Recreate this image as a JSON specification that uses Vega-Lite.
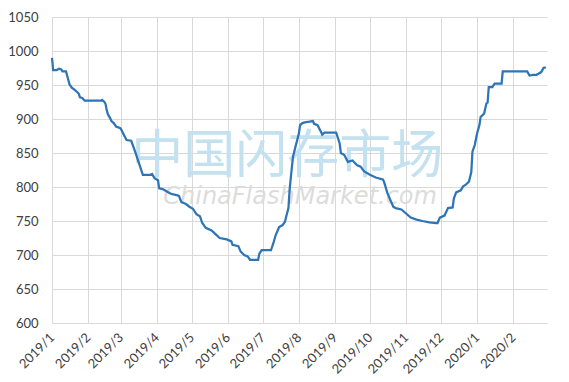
{
  "$schema": "https://vega.github.io/schema/vega-lite/v6.json",
  "width": 495,
  "height": 306,
  "autosize": "none",
  "padding": {"left": 52, "top": 17, "right": 22, "bottom": 59},
  "background": "white",
  "config": {
    "view": {"stroke": null},
    "font": "Lato",
    "axis": {"labelFont": "Lato", "labelFontSize": 13, "labelColor": "#404040", "gridColor": "#d9d9d9", "gridWidth": 1, "ticks": false, "title": null, "labelOverlap": false}
  },
  "datasets": {
    "price": [
      {"date": "2019-01-01", "value": 990},
      {"date": "2019-01-02", "value": 972},
      {"date": "2019-01-05", "value": 972},
      {"date": "2019-01-07", "value": 974},
      {"date": "2019-01-09", "value": 973},
      {"date": "2019-01-10", "value": 970},
      {"date": "2019-01-13", "value": 970},
      {"date": "2019-01-14", "value": 964},
      {"date": "2019-01-16", "value": 951},
      {"date": "2019-01-18", "value": 946},
      {"date": "2019-01-21", "value": 942},
      {"date": "2019-01-23", "value": 939},
      {"date": "2019-01-24", "value": 937},
      {"date": "2019-01-25", "value": 932},
      {"date": "2019-01-27", "value": 931},
      {"date": "2019-01-29", "value": 927},
      {"date": "2019-02-12", "value": 927},
      {"date": "2019-02-13", "value": 928},
      {"date": "2019-02-15", "value": 925},
      {"date": "2019-02-16", "value": 922},
      {"date": "2019-02-17", "value": 913},
      {"date": "2019-02-18", "value": 907},
      {"date": "2019-02-20", "value": 901},
      {"date": "2019-02-21", "value": 897},
      {"date": "2019-02-23", "value": 894},
      {"date": "2019-02-25", "value": 889},
      {"date": "2019-02-28", "value": 887},
      {"date": "2019-03-01", "value": 886},
      {"date": "2019-03-03", "value": 879},
      {"date": "2019-03-06", "value": 869},
      {"date": "2019-03-10", "value": 868},
      {"date": "2019-03-13", "value": 854},
      {"date": "2019-03-20", "value": 818},
      {"date": "2019-03-26", "value": 818},
      {"date": "2019-03-28", "value": 819},
      {"date": "2019-03-30", "value": 813},
      {"date": "2019-04-02", "value": 810},
      {"date": "2019-04-03", "value": 798},
      {"date": "2019-04-06", "value": 797},
      {"date": "2019-04-10", "value": 793},
      {"date": "2019-04-13", "value": 790},
      {"date": "2019-04-18", "value": 788},
      {"date": "2019-04-20", "value": 787},
      {"date": "2019-04-22", "value": 778},
      {"date": "2019-04-26", "value": 775},
      {"date": "2019-04-29", "value": 771},
      {"date": "2019-05-02", "value": 768},
      {"date": "2019-05-05", "value": 760},
      {"date": "2019-05-08", "value": 757},
      {"date": "2019-05-10", "value": 747},
      {"date": "2019-05-13", "value": 740},
      {"date": "2019-05-18", "value": 736},
      {"date": "2019-05-20", "value": 733},
      {"date": "2019-05-25", "value": 725},
      {"date": "2019-05-31", "value": 723},
      {"date": "2019-06-04", "value": 720},
      {"date": "2019-06-05", "value": 715},
      {"date": "2019-06-10", "value": 713},
      {"date": "2019-06-12", "value": 705},
      {"date": "2019-06-15", "value": 700},
      {"date": "2019-06-18", "value": 698},
      {"date": "2019-06-20", "value": 693},
      {"date": "2019-06-27", "value": 693},
      {"date": "2019-06-28", "value": 702},
      {"date": "2019-06-30", "value": 707},
      {"date": "2019-07-08", "value": 707},
      {"date": "2019-07-10", "value": 717},
      {"date": "2019-07-12", "value": 729},
      {"date": "2019-07-15", "value": 741},
      {"date": "2019-07-18", "value": 744},
      {"date": "2019-07-20", "value": 749},
      {"date": "2019-07-21", "value": 756},
      {"date": "2019-07-23", "value": 769},
      {"date": "2019-07-24", "value": 796},
      {"date": "2019-07-26", "value": 830},
      {"date": "2019-07-27", "value": 845},
      {"date": "2019-07-29", "value": 859},
      {"date": "2019-07-31", "value": 872},
      {"date": "2019-08-01", "value": 879},
      {"date": "2019-08-02", "value": 891},
      {"date": "2019-08-04", "value": 894},
      {"date": "2019-08-06", "value": 895},
      {"date": "2019-08-10", "value": 896},
      {"date": "2019-08-13", "value": 897},
      {"date": "2019-08-14", "value": 893},
      {"date": "2019-08-17", "value": 891},
      {"date": "2019-08-20", "value": 881},
      {"date": "2019-08-21", "value": 877},
      {"date": "2019-08-23", "value": 880},
      {"date": "2019-09-02", "value": 880},
      {"date": "2019-09-05", "value": 864},
      {"date": "2019-09-06", "value": 850},
      {"date": "2019-09-09", "value": 847},
      {"date": "2019-09-12", "value": 837},
      {"date": "2019-09-16", "value": 839},
      {"date": "2019-09-20", "value": 832},
      {"date": "2019-09-23", "value": 830},
      {"date": "2019-09-26", "value": 823},
      {"date": "2019-10-01", "value": 818},
      {"date": "2019-10-06", "value": 814},
      {"date": "2019-10-12", "value": 811},
      {"date": "2019-10-13", "value": 808},
      {"date": "2019-10-16", "value": 791},
      {"date": "2019-10-21", "value": 771},
      {"date": "2019-10-23", "value": 769},
      {"date": "2019-10-28", "value": 767},
      {"date": "2019-11-01", "value": 761},
      {"date": "2019-11-05", "value": 755},
      {"date": "2019-11-10", "value": 752},
      {"date": "2019-11-15", "value": 750},
      {"date": "2019-11-21", "value": 748},
      {"date": "2019-11-27", "value": 747},
      {"date": "2019-11-28", "value": 747},
      {"date": "2019-11-30", "value": 755},
      {"date": "2019-12-04", "value": 758},
      {"date": "2019-12-07", "value": 769},
      {"date": "2019-12-11", "value": 770},
      {"date": "2019-12-12", "value": 783},
      {"date": "2019-12-14", "value": 792},
      {"date": "2019-12-18", "value": 795},
      {"date": "2019-12-20", "value": 801},
      {"date": "2019-12-22", "value": 803},
      {"date": "2019-12-25", "value": 808},
      {"date": "2019-12-27", "value": 822},
      {"date": "2019-12-28", "value": 852},
      {"date": "2019-12-30", "value": 862},
      {"date": "2020-01-01", "value": 879},
      {"date": "2020-01-03", "value": 891},
      {"date": "2020-01-04", "value": 903},
      {"date": "2020-01-07", "value": 908},
      {"date": "2020-01-09", "value": 923},
      {"date": "2020-01-10", "value": 924},
      {"date": "2020-01-11", "value": 947},
      {"date": "2020-01-14", "value": 947},
      {"date": "2020-01-16", "value": 952},
      {"date": "2020-01-22", "value": 952},
      {"date": "2020-01-23", "value": 970},
      {"date": "2020-02-13", "value": 970},
      {"date": "2020-02-15", "value": 964},
      {"date": "2020-02-18", "value": 965},
      {"date": "2020-02-21", "value": 965},
      {"date": "2020-02-23", "value": 967},
      {"date": "2020-02-25", "value": 969},
      {"date": "2020-02-27", "value": 975},
      {"date": "2020-02-29", "value": 976}
    ],
    "wm": [
      {"date": "2019-07-22", "value": 844, "text": "中国闪存市场", "kind": "cn"},
      {"date": "2019-08-02", "value": 786, "text": "ChinaFlashMarket.com", "kind": "en"}
    ]
  },
  "encoding": {
    "x": {
      "field": "date", "type": "temporal",
      "scale": {"domain": [{"year": 2019, "month": 1, "date": 1}, {"year": 2020, "month": 3, "date": 1}], "nice": false},
      "axis": {
        "values": [
          {"year": 2019, "month": 1, "date": 1}, {"year": 2019, "month": 2, "date": 1}, {"year": 2019, "month": 3, "date": 1},
          {"year": 2019, "month": 4, "date": 1}, {"year": 2019, "month": 5, "date": 1}, {"year": 2019, "month": 6, "date": 1},
          {"year": 2019, "month": 7, "date": 1}, {"year": 2019, "month": 8, "date": 1}, {"year": 2019, "month": 9, "date": 1},
          {"year": 2019, "month": 10, "date": 1}, {"year": 2019, "month": 11, "date": 1}, {"year": 2019, "month": 12, "date": 1},
          {"year": 2020, "month": 1, "date": 1}, {"year": 2020, "month": 2, "date": 1}
        ],
        "format": "%Y/%-m",
        "labelAngle": -45,
        "labelAlign": "right",
        "labelBaseline": "middle",
        "labelPadding": 12,
        "labelOverlap": false,
        "domain": true,
        "domainColor": "#d9d9d9",
        "grid": true
      }
    },
    "y": {
      "field": "value", "type": "quantitative",
      "scale": {"domain": [600, 1050], "nice": false, "zero": false},
      "axis": {
        "values": [600, 650, 700, 750, 800, 850, 900, 950, 1000, 1050],
        "format": "d",
        "labelOverlap": false,
        "domain": false,
        "grid": true,
        "labelPadding": 14
      }
    }
  },
  "layer": [
    {
      "data": {"name": "wm"},
      "transform": [{"filter": "datum.kind == 'cn'"}],
      "mark": {"type": "text", "font": "Noto Sans CJK SC", "fontSize": 52, "color": "#c3e1ee", "align": "center", "baseline": "middle"},
      "encoding": {"text": {"field": "text", "type": "nominal"}}
    },
    {
      "data": {"name": "wm"},
      "transform": [{"filter": "datum.kind == 'en'"}],
      "mark": {"type": "text", "font": "DejaVu Sans", "fontSize": 24, "fontStyle": "italic", "color": "#dcdcdc", "align": "center", "baseline": "middle"},
      "encoding": {"text": {"field": "text", "type": "nominal"}}
    },
    {
      "data": {"name": "price", "format": {"parse": {"date": "date:'%Y-%m-%d'"}}},
      "mark": {"type": "line", "color": "#2e75b6", "strokeWidth": 2.25, "interpolate": "linear"}
    }
  ]
}
